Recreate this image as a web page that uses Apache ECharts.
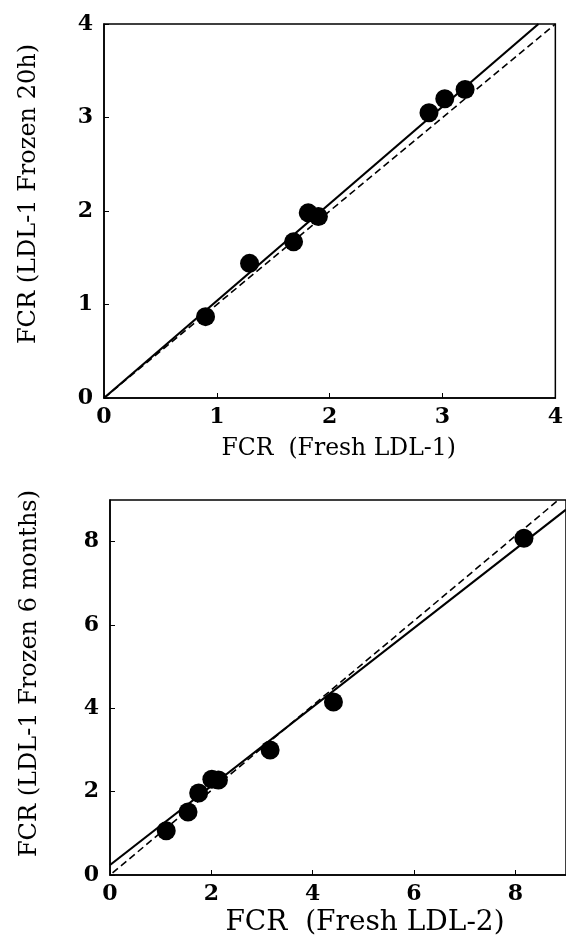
<!DOCTYPE html>
<html>
<head>
<meta charset="utf-8">
<script src="https://cdn.jsdelivr.net/npm/echarts@6/dist/echarts.min.js"></script>
<style>
  html, body { margin: 0; padding: 0; background: #fff; }
  #chart { width: 566px; height: 940px; }
</style>
</head>
<body>
<div id="chart"></div>
<script>
// ---- Panel A: fresh LDL-1 vs LDL-1 frozen 20h ----
const topX = [0.90, 1.29, 1.68, 1.81, 1.90, 2.88, 3.02, 3.20];
const topY = [0.87, 1.44, 1.67, 1.98, 1.94, 3.05, 3.20, 3.30];
const topFitX = [0, 3.85];
const topFitY = [0, 4.0];
const topIdX = [0, 4];
const topIdY = [0, 4];
const topTicks = [0, 1, 2, 3, 4];

// ---- Panel B: fresh LDL-2 vs LDL-1 frozen 6 months ----
const botX = [1.11, 1.54, 1.75, 2.01, 2.14, 3.16, 4.41, 8.17];
const botY = [1.06, 1.51, 1.97, 2.30, 2.28, 3.00, 4.15, 8.08];
const botFitX = [0, 9];
const botFitY = [0.24, 8.77];
const botIdX = [0.05, 8.85];
const botIdY = [0.05, 9.0];
const botTicks = [0, 2, 4, 6, 8];

const zip = (a, b) => a.map((v, i) => [v, b[i]]);

const SERIF = "'DejaVu Serif', 'Liberation Serif', serif";
const tickLabel = { color: '#000', fontFamily: SERIF, fontWeight: 'bold', fontSize: 22 };

function xAxisCfg(gi, max, interval, name, fs, gap, pad) {
  return {
    gridIndex: gi, type: 'value', min: 0, max: max, interval: interval,
    name: name, nameLocation: 'middle', nameGap: gap,
    nameTextStyle: { color: '#000', fontFamily: SERIF, fontSize: fs, padding: pad },
    axisLine: { show: true, onZero: false, lineStyle: { color: '#000', width: 1.5 } },
    axisTick: { show: true, inside: true, length: 5, lineStyle: { color: '#000', width: 1 } },
    axisLabel: Object.assign({ margin: 8, showMaxLabel: max % interval === 0 }, tickLabel),
    splitLine: { show: false }
  };
}
function yAxisCfg(gi, max, interval, name, fs, gap, pad) {
  return {
    gridIndex: gi, type: 'value', min: 0, max: max, interval: interval,
    name: name, nameLocation: 'middle', nameGap: gap, nameRotate: 90,
    nameTextStyle: { color: '#000', fontFamily: SERIF, fontSize: fs, padding: pad },
    axisLine: { show: true, onZero: false, lineStyle: { color: '#000', width: 1.5 } },
    axisTick: { show: true, inside: true, length: 5, lineStyle: { color: '#000', width: 1 } },
    axisLabel: Object.assign({ margin: 11, showMaxLabel: max % interval === 0 }, tickLabel),
    splitLine: { show: false }
  };
}

const chart = echarts.init(document.getElementById('chart'), null, { renderer: 'canvas' });
chart.setOption({
  animation: false,
  backgroundColor: '#fff',
  grid: [
    { left: 104, top: 24, width: 459, height: 374, show: true, borderColor: '#000', borderWidth: 1.5, backgroundColor: 'transparent' },
    { left: 110, top: 500, width: 462, height: 375, show: true, borderColor: '#000', borderWidth: 1.5, backgroundColor: 'transparent' }
  ],
  xAxis: [
    xAxisCfg(0, 4, 1, 'FCR  (Fresh LDL-1)', 23.5, 39, [0, 0, 0, 18]),
    xAxisCfg(1, 9, 2, 'FCR  (Fresh LDL-2)', 28, 34, [0, 0, 0, 54])
  ],
  yAxis: [
    yAxisCfg(0, 4, 1, 'FCR (LDL-1 Frozen 20h)', 24, 63, [0, 0, 0, 34]),
    yAxisCfg(1, 9, 2, 'FCR (LDL-1 Frozen 6 months)', 24, 68, [0, 0, 0, 28])
  ],
  series: [
    { type: 'line', xAxisIndex: 0, yAxisIndex: 0, data: zip(topIdX, topIdY), showSymbol: false, silent: true,
      lineStyle: { color: '#000', width: 1.6, type: [7, 4] } },
    { type: 'line', xAxisIndex: 0, yAxisIndex: 0, data: zip(topFitX, topFitY), showSymbol: false, silent: true,
      lineStyle: { color: '#000', width: 2.2 } },
    { type: 'scatter', xAxisIndex: 0, yAxisIndex: 0, data: zip(topX, topY), symbol: 'circle', symbolSize: 19,
      itemStyle: { color: '#000', opacity: 1 } },
    { type: 'line', xAxisIndex: 1, yAxisIndex: 1, data: zip(botIdX, botIdY), showSymbol: false, silent: true,
      lineStyle: { color: '#000', width: 1.6, type: [7, 4] } },
    { type: 'line', xAxisIndex: 1, yAxisIndex: 1, data: zip(botFitX, botFitY), showSymbol: false, silent: true,
      lineStyle: { color: '#000', width: 2.2 } },
    { type: 'scatter', xAxisIndex: 1, yAxisIndex: 1, data: zip(botX, botY), symbol: 'circle', symbolSize: 19,
      itemStyle: { color: '#000', opacity: 1 } }
  ]
});
</script>
</body>
</html>
